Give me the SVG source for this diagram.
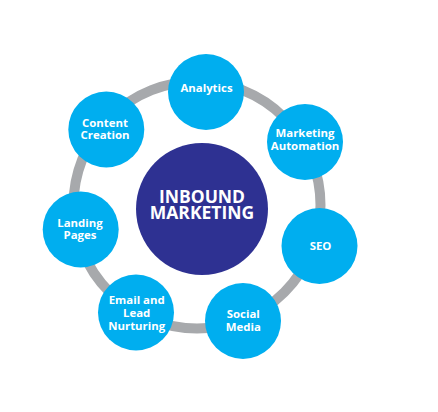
<svg xmlns="http://www.w3.org/2000/svg" width="438" height="412" viewBox="0 0 438 412">
<style>
.ring{fill:none;stroke:#A7A9AC;stroke-width:10}
.node{fill:#00AEEF}
.hub{fill:#2E3192}
text{font-family:"Open Sans","Liberation Sans",sans-serif;font-weight:700;fill:#fff;text-anchor:middle}
.t{font-size:11.4px}
.h{font-size:17.5px}
</style>
<rect width="438" height="412" fill="#fff"/>
<g id="connectors">
<circle class="ring" cx="197" cy="205" r="123.5"/>
</g>
<g id="inbound-marketing">
<circle class="hub" cx="202" cy="209" r="66"/>
<text class="h" x="202" y="202.7">INBOUND</text>
<text class="h" x="202" y="219.3">MARKETING</text>
</g>
<g id="analytics">
<circle class="node" cx="206" cy="92" r="38"/>
<text class="t" x="206.5" y="91.7">Analytics</text>
</g>
<g id="marketing-automation">
<circle class="node" cx="305" cy="142" r="38"/>
<text class="t" x="305" y="137.3">Marketing</text>
<text class="t" x="305" y="150">Automation</text>
</g>
<g id="seo">
<circle class="node" cx="319.5" cy="246" r="38"/>
<text class="t" x="320.5" y="250">SEO</text>
</g>
<g id="social-media">
<circle class="node" cx="243" cy="321" r="38"/>
<text class="t" x="243.3" y="318.3">Social</text>
<text class="t" x="243.3" y="331">Media</text>
</g>
<g id="email-lead-nurturing">
<circle class="node" cx="136" cy="312.5" r="38"/>
<text class="t" x="136.7" y="304.3">Email and</text>
<text class="t" x="136.7" y="317.3">Lead</text>
<text class="t" x="136.7" y="330.3">Nurturing</text>
</g>
<g id="landing-pages">
<circle class="node" cx="80.7" cy="229.5" r="38"/>
<text class="t" x="80" y="226.7">Landing</text>
<text class="t" x="80" y="239.3">Pages</text>
</g>
<g id="content-creation">
<circle class="node" cx="106.3" cy="129.5" r="38"/>
<text class="t" x="105" y="126.7">Content</text>
<text class="t" x="105" y="139.3">Creation</text>
</g>
</svg>
